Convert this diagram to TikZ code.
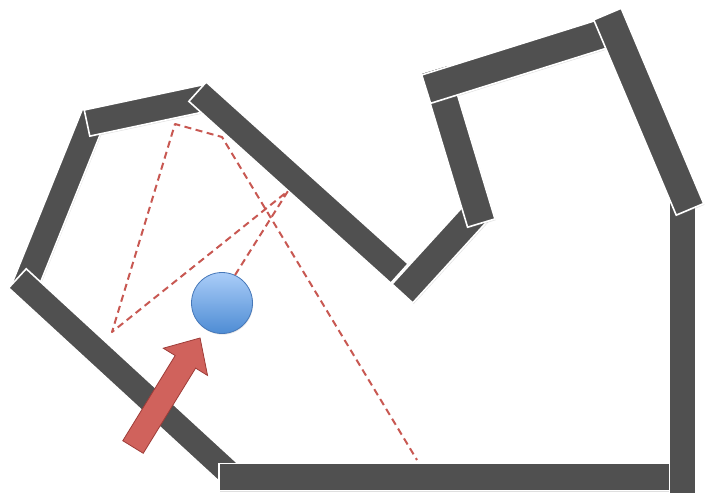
\documentclass[tikz,border=0pt]{standalone}
\usepackage{tikz}
\usetikzlibrary{shadows}

\definecolor{wallgray}{RGB}{80,80,80}
\definecolor{raycol}{RGB}{200,88,82}
\definecolor{ballTop}{RGB}{170,205,248}
\definecolor{ballBot}{RGB}{78,140,212}
\definecolor{ballEdge}{RGB}{70,120,185}
\definecolor{arrowFill}{RGB}{208,98,92}
\definecolor{arrowEdge}{RGB}{158,60,56}

\begin{document}
\begin{tikzpicture}[x=1pt, y=-1pt,
    wall/.style={draw=white, line width=1.6pt, fill=wallgray, inner sep=0pt, outer sep=0pt,
      drop shadow={opacity=0.25, shadow xshift=0.8pt, shadow yshift=-1.2pt}},
    ray/.style={draw=raycol, line width=2pt, dash pattern=on 7pt off 4.5pt, line join=round},
    ball/.style={circle, minimum size=61pt, inner sep=0pt, draw=ballEdge, line width=0.8pt,
      top color=ballTop, bottom color=ballBot,
      drop shadow={opacity=0.2, shadow xshift=0.6pt, shadow yshift=-1.2pt}}
  ]
  \useasboundingbox (0,0) rectangle (711,500);

  % walls, lowest first
  \node[wall, minimum width=192pt, minimum height=26pt, rotate=68] (wLeft) at (58.5,203) {};
  \node[wall, minimum width=295pt, minimum height=26pt, rotate=-42.6] (wLowLeft) at (126,378.2) {};
  \node[wall, minimum width=461pt, minimum height=26.7pt] (wFloor) at (449.5,477) {};
  \node[wall, minimum width=300pt, minimum height=26.8pt, rotate=90] (wRight) at (682.7,344) {};
  \node[wall, minimum width=125.5pt, minimum height=26.7pt, rotate=12] (wTopLeft) at (148.4,110) {};
  \node[wall, minimum width=271.7pt, minimum height=26pt, rotate=-42] (wSlope) at (298.5,182.6) {};
  \node[wall, minimum width=111pt, minimum height=28pt, rotate=47.6] (wNotch) at (439.8,252.5) {};
  \node[wall, minimum width=161pt, minimum height=28.6pt, rotate=-73.2] (wPillar) at (458,146) {};
  \node[wall, minimum width=195pt, minimum height=29.7pt, rotate=17.4] (wRoof) at (519.2,60) {};
  \node[wall, minimum width=212pt, minimum height=29.8pt, rotate=-67.1] (wEave) at (648.7,111.7) {};

  % bounce points of the ray
  \coordinate (hitA) at (288,191);
  \coordinate (hitB) at (112,332);
  \coordinate (hitC) at (175,124);
  \coordinate (hitD) at (222,137);
  \coordinate (hitE) at (417,460);

  \node[ball] (ball) at (222,303) {};
  \draw[ray] (ball.65) -- (hitA) -- (hitB) -- (hitC) -- (hitD) -- (hitE);

  % push arrow
  \draw[fill=arrowFill, draw=arrowEdge, line width=0.8pt, shift={(133,447)}, rotate=58.4]
    (0,-12) -- (100,-12) -- (100,-26) -- (128,0) -- (100,26) -- (100,12) -- (0,12) -- cycle;
\end{tikzpicture}
\end{document}
